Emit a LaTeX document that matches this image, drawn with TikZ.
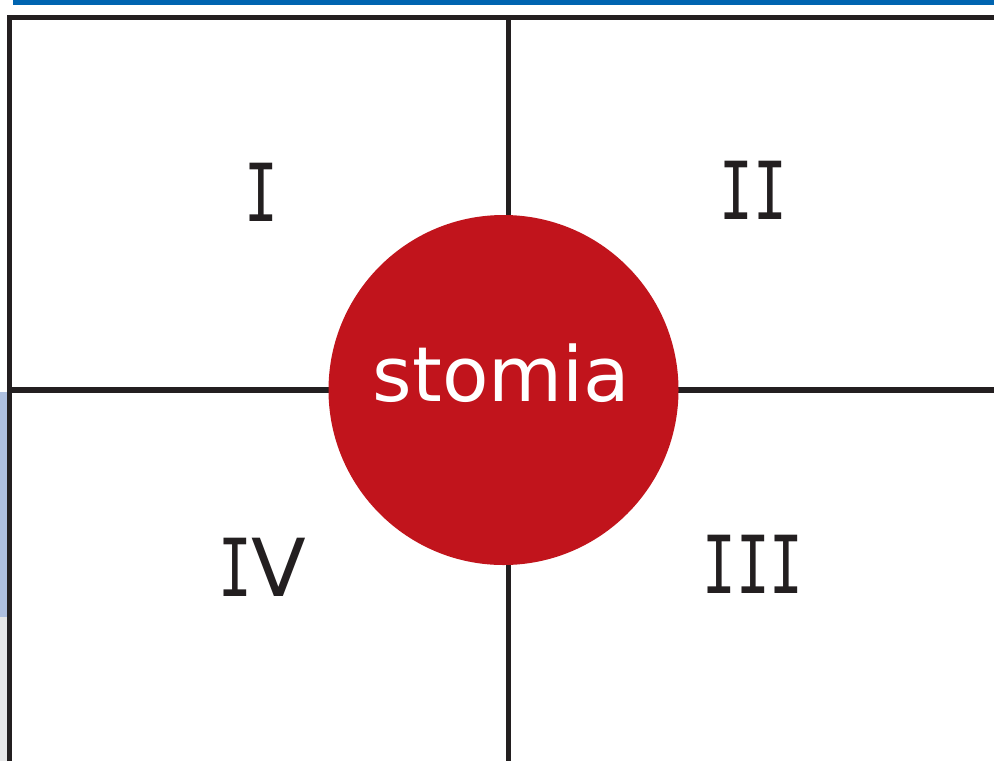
\documentclass[tikz,border=0pt]{standalone}
\usepackage{fontspec}
\setmainfont{DejaVu Sans}
\newfontfamily\numfont[FakeStretch=0.7]{DejaVu Sans Mono}
\definecolor{barblue}{HTML}{0064B0}
\definecolor{stripblue}{HTML}{AFC0E0}
\definecolor{stripgray}{HTML}{E6E7E8}
\definecolor{linegray}{HTML}{231F20}
\definecolor{stomared}{HTML}{C1141C}
\begin{document}
\begin{tikzpicture}[x=0.75pt,y=-0.75pt,
  gridline/.style={draw=linegray,line width=3.8pt},
  numeral/.style={text=linegray,font=\fontsize{60}{60}\selectfont,inner sep=0pt},
  hub/.style={circle,fill=stomared,minimum size=262.5pt,inner sep=0pt}]
\useasboundingbox (0,0) rectangle (994,761);
\fill[white] (0,0) rectangle (994,761);
\fill[barblue] (13,0) rectangle (994,5.3);
\fill[stripblue] (0,392) rectangle (7,617);
\fill[stripgray] (0,617) rectangle (7,761);
\draw[gridline] (9.5,761) -- (9.5,17.5) -- (994,17.5);
\draw[gridline] (9.5,390) -- (994,390);
\draw[gridline] (508.5,17.5) -- (508.5,761);
\node[hub] (hub) at (503.5,390) {};
\node[text=white,font=\fontsize{57}{57}\selectfont,anchor=base,inner sep=0pt] (stomia) at (501.5,401) {stomia};
\node[numeral] (q1) at (261,192) {\numfont I};
\node[numeral] (q2) at (753,190) {\numfont II};
\node[numeral] (q3) at (753,564.5) {\numfont III};
\node[numeral] (q4) at (262.5,567) {{\numfont I}V};
\end{tikzpicture}
\end{document}
